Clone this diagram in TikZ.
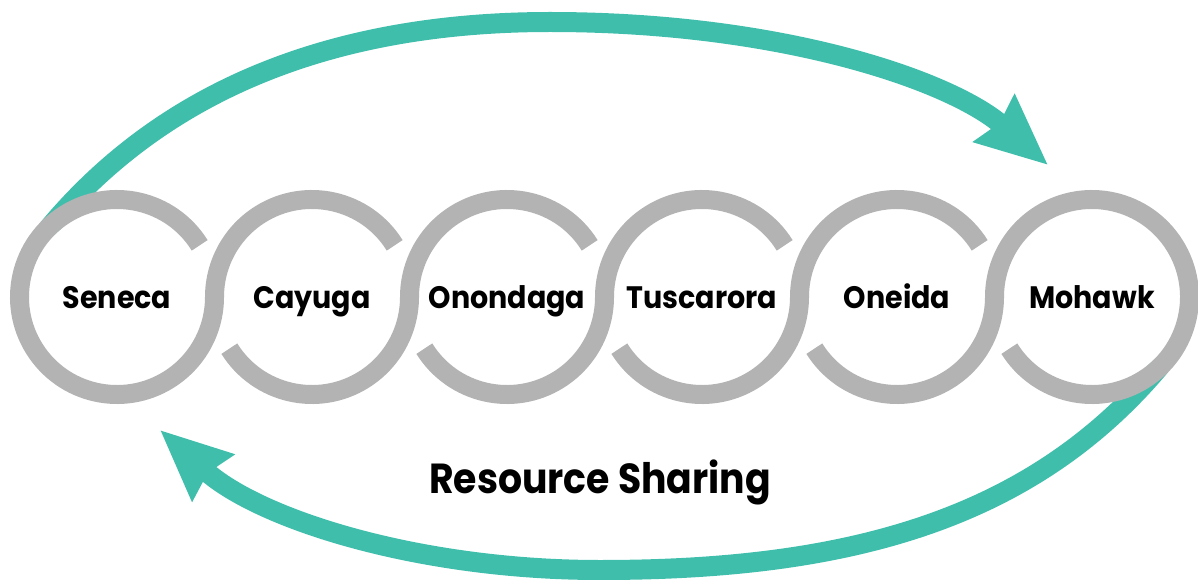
\documentclass[tikz,border=0pt]{standalone}
\usepackage{fontspec}
\setmainfont{Poppins}
\usepackage{tikz}
\usetikzlibrary{arrows.meta, backgrounds, positioning}
\definecolor{sharegreen}{RGB}{64, 190, 172}
\definecolor{linkgray}{RGB}{179, 179, 179}
\newcommand{\narrow}[1]{\scalebox{0.92}[1]{#1}}

\begin{document}
\begin{tikzpicture}[x=1pt, y=1pt, >={Stealth[length=70pt, width=60pt, inset=6pt]},
	nation/.style={circle, fill=white, minimum size=176pt, inner sep=0pt, text height=22pt, text depth=0pt, font=\bfseries\fontsize{31}{31}\selectfont},
	band/.style={linkgray, line width=19pt},
	flow/.style={->, sharegreen, line width=20pt}]
	\useasboundingbox (0,0) rectangle (1198,579);

	% the six nations
	\node[nation] (seneca) at (117,282) {\narrow{Seneca}};
	\node[nation] (cayuga) at (312,282) {\narrow{Cayuga}};
	\node[nation] (onondaga) at (507,282) {\narrow{Onondaga}};
	\node[nation] (tuscarora) at (702,282) {\narrow{Tuscarora}};
	\node[nation] (oneida) at (897,282) {\narrow{Oneida}};
	\node[nation] (mohawk) at (1092,282) {\narrow{Mohawk}};

	% linked rings, gap where the next ring passes
	\draw[band] ([shift={(32:97.5)}]seneca.center) arc[start angle=32, end angle=360, radius=97.5];
	\foreach \n in {cayuga, onondaga, tuscarora, oneida} {
		\draw[band] ([shift={(32:97.5)}]\n.center) arc[start angle=32, end angle=180, radius=97.5];
		\draw[band] ([shift={(212:97.5)}]\n.center) arc[start angle=212, end angle=360, radius=97.5];
	}
	\draw[band] ([shift={(212:97.5)}]mohawk.center) arc[start angle=212, end angle=540, radius=97.5];

	\node[font=\bfseries\fontsize{42}{42}\selectfont, anchor=base] (sharing) at (600,86) {\scalebox{0.9}[1]{Resource Sharing}};

	% arrows behind the rings
	\coordinate (toptip) at (1048,414);
	\coordinate (bottomtip) at (160,149);
	\begin{scope}[on background layer]
		\draw[flow] ([shift={(135:97)}]seneca.center) .. controls (157,481) and (320,557) .. (550,557)
			.. controls (780,557) and (950,499) .. (toptip);
		\draw[flow] ([shift={(-45:97)}]mohawk.center) .. controls (1032,60) and (850,9) .. (600,9)
			.. controls (420,9) and (260,59) .. (bottomtip);
	\end{scope}
\end{tikzpicture}
\end{document}
